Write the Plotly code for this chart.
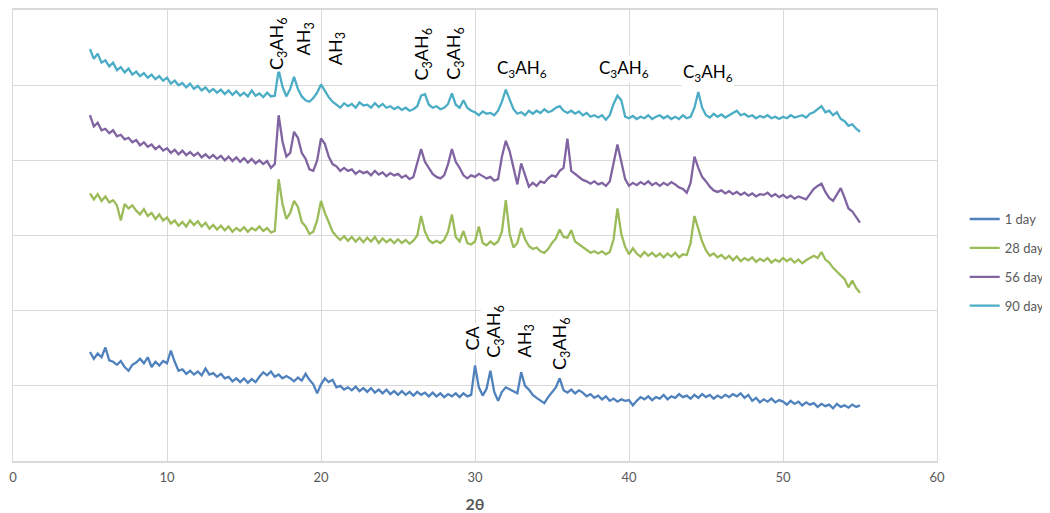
import plotly.graph_objects as go

# 2-theta scan positions (degrees), 0.25 step from 5 to 55
two_theta = [5 + 0.25 * i for i in range(201)]

day1 = [
    1.45, 1.36, 1.43, 1.38, 1.51, 1.34, 1.32, 1.28, 1.33, 1.25, 1.20, 1.28,
    1.31, 1.36, 1.30, 1.38, 1.25, 1.32, 1.27, 1.33, 1.30, 1.47, 1.32, 1.20,
    1.22, 1.16, 1.20, 1.15, 1.19, 1.14, 1.23, 1.15, 1.17, 1.12, 1.16, 1.10,
    1.12, 1.06, 1.10, 1.05, 1.10, 1.04, 1.09, 1.05, 1.12, 1.18, 1.14, 1.19,
    1.12, 1.15, 1.10, 1.13, 1.10, 1.06, 1.11, 1.07, 1.16, 1.08, 1.02, 0.90,
    1.02, 1.10, 1.05, 1.08, 0.98, 1.00, 0.95, 0.98, 0.94, 0.99, 0.93, 0.97,
    0.92, 0.97, 0.91, 0.95, 0.90, 0.95, 0.89, 0.93, 0.88, 0.93, 0.88, 0.92,
    0.87, 0.92, 0.88, 0.91, 0.86, 0.91, 0.86, 0.90, 0.85, 0.89, 0.86, 0.90,
    0.85, 0.90, 0.86, 0.88, 1.27, 0.98, 0.87, 0.96, 1.20, 0.92, 0.80, 0.92,
    0.98, 0.95, 0.93, 0.90, 1.18, 1.00, 0.95, 0.88, 0.84, 0.80, 0.77, 0.85,
    0.92, 0.98, 1.10, 0.94, 0.91, 0.95, 0.90, 0.94, 0.91, 0.86, 0.89, 0.84,
    0.87, 0.82, 0.86, 0.80, 0.83, 0.79, 0.82, 0.80, 0.81, 0.74, 0.80, 0.85,
    0.82, 0.86, 0.81, 0.85, 0.83, 0.88, 0.82, 0.86, 0.84, 0.89, 0.85, 0.87,
    0.83, 0.88, 0.84, 0.89, 0.85, 0.88, 0.83, 0.87, 0.84, 0.88, 0.85, 0.89,
    0.86, 0.90, 0.84, 0.88, 0.80, 0.84, 0.78, 0.82, 0.79, 0.83, 0.78, 0.81,
    0.79, 0.75, 0.80, 0.76, 0.79, 0.74, 0.78, 0.75, 0.77, 0.72, 0.76, 0.73,
    0.75, 0.70, 0.76, 0.72, 0.74, 0.71, 0.75, 0.72, 0.74,
]

day28 = [
    3.56, 3.48, 3.55, 3.46, 3.52, 3.44, 3.47, 3.40, 3.20, 3.42, 3.36, 3.40,
    3.33, 3.28, 3.35, 3.26, 3.30, 3.22, 3.28, 3.20, 3.24, 3.16, 3.20, 3.13,
    3.18, 3.12, 3.20, 3.14, 3.19, 3.12, 3.17, 3.09, 3.14, 3.08, 3.13, 3.07,
    3.12, 3.05, 3.10, 3.06, 3.11, 3.05, 3.10, 3.07, 3.12, 3.06, 3.10, 3.04,
    3.06, 3.75, 3.42, 3.22, 3.30, 3.46, 3.38, 3.18, 3.12, 3.02, 3.05, 3.20,
    3.46, 3.30, 3.18, 3.05, 2.99, 2.94, 2.99, 2.93, 2.98, 2.92, 2.97, 2.91,
    2.97, 2.92, 2.98, 2.90, 2.96, 2.91, 2.95, 2.90, 2.95, 2.90, 2.94, 2.89,
    2.93, 3.00, 3.26, 3.05, 2.94, 2.90, 2.93, 2.90, 2.94, 3.05, 3.28, 2.98,
    2.92, 3.06, 2.90, 2.88, 2.92, 3.12, 2.90, 2.87, 2.92, 2.88, 2.92, 3.05,
    3.47, 3.02, 2.84, 2.90, 3.10, 2.95, 2.86, 2.82, 2.84, 2.79, 2.77, 2.82,
    2.90, 2.96, 3.08, 2.98, 2.97, 3.07, 2.92, 2.88, 2.85, 2.80, 2.77, 2.79,
    2.76, 2.79, 2.75, 2.78, 2.95, 3.36, 3.02, 2.85, 2.75, 2.83, 2.76, 2.72,
    2.78, 2.73, 2.77, 2.72, 2.76, 2.71, 2.76, 2.72, 2.77, 2.71, 2.75, 2.74,
    2.90, 3.26, 3.08, 2.92, 2.80, 2.73, 2.76, 2.71, 2.74, 2.69, 2.73, 2.67,
    2.72, 2.66, 2.70, 2.67, 2.71, 2.65, 2.69, 2.66, 2.70, 2.64, 2.68, 2.65,
    2.70, 2.66, 2.69, 2.64, 2.68, 2.63, 2.67, 2.70, 2.73, 2.70, 2.78, 2.68,
    2.64, 2.57, 2.52, 2.48, 2.42, 2.31, 2.40, 2.30, 2.24,
]

day56 = [
    4.60, 4.45, 4.50, 4.40, 4.42, 4.36, 4.40, 4.32, 4.34, 4.28, 4.30, 4.24,
    4.27, 4.20, 4.24, 4.18, 4.21, 4.15, 4.19, 4.13, 4.16, 4.10, 4.14, 4.08,
    4.13, 4.07, 4.11, 4.06, 4.10, 4.04, 4.08, 4.03, 4.07, 4.02, 4.06, 4.00,
    4.05, 3.99, 4.04, 3.98, 4.03, 3.97, 4.02, 3.96, 4.00, 3.95, 3.99, 3.90,
    3.95, 4.60, 4.25, 4.05, 4.10, 4.38, 4.30, 4.10, 4.02, 3.88, 3.86, 4.00,
    4.29, 4.22, 4.05, 3.95, 3.92, 3.86, 3.90, 3.86, 3.88, 3.82, 3.86, 3.83,
    3.85, 3.80, 3.86, 3.81, 3.84, 3.79, 3.83, 3.80, 3.82, 3.77, 3.80, 3.75,
    3.78, 3.95, 4.15, 3.98, 3.90, 3.82, 3.78, 3.76, 3.80, 3.95, 4.15, 3.98,
    3.90, 3.80, 3.76, 3.80, 3.78, 3.82, 3.79, 3.76, 3.78, 3.73, 3.75, 4.05,
    4.26, 4.12, 3.90, 3.68, 3.96, 3.80, 3.65, 3.70, 3.66, 3.72, 3.70, 3.76,
    3.80, 3.78, 3.86, 3.90, 4.29, 3.86, 3.82, 3.78, 3.74, 3.72, 3.69, 3.72,
    3.68, 3.70, 3.66, 3.72, 3.95, 4.21, 3.98, 3.75, 3.66, 3.70, 3.67, 3.71,
    3.68, 3.72, 3.67, 3.70, 3.66, 3.70, 3.67, 3.71, 3.68, 3.64, 3.62, 3.57,
    3.70, 4.05, 3.90, 3.78, 3.72, 3.65, 3.60, 3.58, 3.60, 3.56, 3.59, 3.55,
    3.58, 3.54, 3.57, 3.53, 3.56, 3.52, 3.55, 3.54, 3.57, 3.52, 3.55, 3.51,
    3.54, 3.50, 3.53, 3.49, 3.52, 3.50, 3.48, 3.55, 3.62, 3.66, 3.69, 3.58,
    3.50, 3.46, 3.55, 3.63, 3.50, 3.36, 3.32, 3.25, 3.17,
]

day90 = [
    5.48, 5.35, 5.42, 5.30, 5.33, 5.25, 5.30, 5.20, 5.24, 5.17, 5.22, 5.14,
    5.18, 5.12, 5.16, 5.10, 5.14, 5.08, 5.12, 5.06, 5.10, 5.02, 5.06, 5.00,
    5.03, 4.97, 5.02, 4.95, 4.99, 4.93, 4.97, 4.91, 4.95, 4.90, 4.94, 4.88,
    4.93, 4.87, 4.92, 4.86, 4.90, 4.85, 4.93, 4.86, 4.89, 4.84, 4.90, 4.85,
    4.86, 5.20, 4.98, 4.85, 4.95, 5.11, 4.95, 4.85, 4.80, 4.78, 4.83, 4.90,
    5.01, 4.92, 4.84, 4.78, 4.74, 4.70, 4.76, 4.72, 4.75, 4.70, 4.77, 4.73,
    4.74, 4.70, 4.76, 4.71, 4.75, 4.70, 4.72, 4.68, 4.71, 4.67, 4.70, 4.66,
    4.68, 4.72, 4.86, 4.88, 4.74, 4.70, 4.72, 4.68, 4.70, 4.75, 4.89, 4.74,
    4.70, 4.80, 4.70, 4.66, 4.64, 4.60, 4.65, 4.62, 4.63, 4.60, 4.66, 4.78,
    4.94, 4.82, 4.68, 4.62, 4.64, 4.60, 4.66, 4.62, 4.66, 4.63, 4.68, 4.64,
    4.66, 4.70, 4.72, 4.66, 4.63, 4.66, 4.62, 4.65, 4.60, 4.63, 4.58, 4.60,
    4.57, 4.60, 4.54, 4.60, 4.75, 4.86, 4.80, 4.58, 4.56, 4.59, 4.55, 4.58,
    4.56, 4.60, 4.55, 4.58, 4.60, 4.56, 4.59, 4.55, 4.58, 4.55, 4.60, 4.56,
    4.58, 4.70, 4.91, 4.70, 4.60, 4.57, 4.62, 4.58, 4.61, 4.57, 4.60, 4.63,
    4.66, 4.60, 4.62, 4.58, 4.60, 4.56, 4.59, 4.57, 4.60, 4.56, 4.58, 4.55,
    4.58, 4.56, 4.60, 4.57, 4.58, 4.60, 4.57, 4.62, 4.64, 4.68, 4.72, 4.64,
    4.66, 4.60, 4.64, 4.55, 4.52, 4.46, 4.48, 4.42, 4.38,
]

series_names = ["1 day", "28 day", "56 day", "90 day"]
series_values = [day1, day28, day56, day90]
series_colors = ["#4F81BD", "#9BBB59", "#8064A2", "#4BACC6"]

C3AH6 = "C<sub>3</sub>AH<sub>6</sub>"
AH3 = "AH<sub>3</sub>"
# phase labels: (2theta, level, text, rotated)
peak_labels = [
    (17.14, 5.56, C3AH6, True),
    (18.96, 5.62, AH3, True),
    (20.97, 5.49, AH3, True),
    (26.62, 5.42, C3AH6, True),
    (28.70, 5.43, C3AH6, True),
    (33.05, 5.21, C3AH6, False),
    (39.68, 5.22, C3AH6, False),
    (45.13, 5.16, C3AH6, False),
    (29.81, 1.63, "CA", True),
    (31.30, 1.72, C3AH6, True),
    (33.25, 1.59, AH3, True),
    (35.58, 1.57, C3AH6, True),
]

x_ticks = [0, 10, 20, 30, 40, 50, 60]

fig = go.Figure()
for name, vals, col in zip(series_names, series_values, series_colors):
    fig.add_trace(go.Scatter(
        x=two_theta, y=vals, mode="lines", name=name,
        line=dict(color=col, width=2.3), legendgroup=name,
    ))

for xv, yv, txt, rot in peak_labels:
    fig.add_annotation(
        x=xv, y=yv, xref="x", yref="y", text=txt, showarrow=False,
        textangle=-90 if rot else 0, bgcolor="white", borderpad=1,
        font=dict(family="Lato, Arial", size=18 if rot else 17, color="#000000"),
    )

# page body keeps its default 8px margin, so the figure is sized to fit it
fig.update_layout(
    width=1042, height=505,
    margin=dict(l=5, r=113, t=0, b=52),
    paper_bgcolor="white", plot_bgcolor="white",
    font=dict(family="Lato, Arial", color="#595959"),
    legend=dict(
        x=1.03, y=0.44, xanchor="left", yanchor="middle",
        font=dict(size=13, color="#595959"), tracegroupgap=9,
        bgcolor="rgba(0,0,0,0)",
    ),
    xaxis=dict(
        range=[0, 60], tickvals=x_ticks, showgrid=True, gridcolor="#D9D9D9",
        gridwidth=1, zeroline=False, showline=True, linecolor="#D9D9D9",
        linewidth=1.5, mirror=True, ticks="", ticklabelstandoff=4,
        tickfont=dict(size=13, color="#595959"),
        title=dict(text="<b>2θ</b>", font=dict(size=16, color="#595959"), standoff=14),
    ),
    yaxis=dict(
        range=[0, 6], dtick=1, showgrid=True, gridcolor="#D9D9D9", gridwidth=1,
        zeroline=False, showline=True, linecolor="#D9D9D9", linewidth=1,
        mirror=True, showticklabels=False, ticks="",
    ),
)

fig.write_html("out.html", config={"displayModeBar": False})
